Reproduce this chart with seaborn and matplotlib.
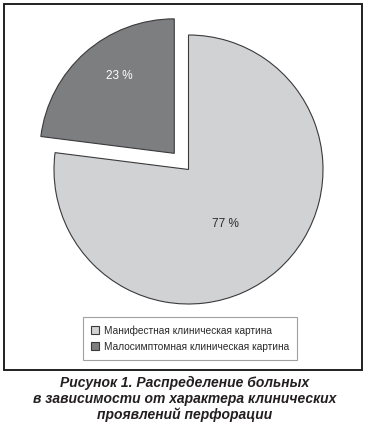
import matplotlib
matplotlib.use("Agg")
import matplotlib.pyplot as plt
from matplotlib.patches import Rectangle
import seaborn as sns

# ---- data ----
categories = ["Манифестная клиническая картина", "Малосимптомная клиническая картина"]
values = [77, 23]
caption_lines = ["Рисунок 1. Распределение больных",
                 "в зависимости от характера клинических",
                 "проявлений перфорации"]

sns.set_theme(style="white")
plt.rcParams['font.family'] = ['Liberation Sans', 'DejaVu Sans']

W, H = 365, 423
fig = plt.figure(figsize=(W / 100, H / 100), dpi=100)
fig.patch.set_facecolor("white")
ax = fig.add_axes([0, 0, 1, 1])

colors = ["#d1d2d4", "#7d7e80"]
edge = "#3a3a3c"
cx, cy, r = 188.5, H - 169.5, 134.5

wedges, texts, autotexts = ax.pie(
    values, colors=colors, startangle=90, counterclock=False,
    explode=[0, 0.16 * r], center=(cx, cy), radius=r,
    autopct=lambda p: f"{p:.0f} %", pctdistance=0.55,
    wedgeprops=dict(edgecolor=edge, linewidth=0.8),
    textprops=dict(fontsize=8.5),
)
ax.set_xlim(0, W)
ax.set_ylim(0, H)
ax.set_aspect("equal")
ax.axis("off")

# label placement / colours
autotexts[0].set_position((225, H - 224))
autotexts[0].set_color("#2b2b2d")
autotexts[1].set_position((119, H - 76))
autotexts[1].set_color("white")
for t in autotexts:
    t.set_ha("center")
    t.set_va("center")

# outer frame
ax.add_patch(Rectangle((3.5, H - 370.5), 358.5, 367, fill=False,
                       edgecolor="#231f20", linewidth=1.4, zorder=5))

# legend
leg = ax.legend(wedges, categories, loc="upper left",
                bbox_to_anchor=(83 / W, 1 - 317 / H), bbox_transform=fig.transFigure,
                fontsize=7.3, frameon=True, fancybox=False,
                handlelength=0.8, handleheight=0.8, handletextpad=0.45,
                borderpad=0.8, labelspacing=0.6, borderaxespad=0)
leg.get_frame().set_edgecolor("#8a8a8a")
leg.get_frame().set_linewidth(0.8)
for t in leg.get_texts():
    t.set_color("#2b2b2d")

# caption
for i, line in enumerate(caption_lines):
    fig.text(185 / W, 1 - (383 + 15.8 * i) / H, line, ha="center", va="center",
             fontsize=10, fontweight="bold", fontstyle="italic", color="#231f20")

fig.savefig("out.png", dpi=100)
